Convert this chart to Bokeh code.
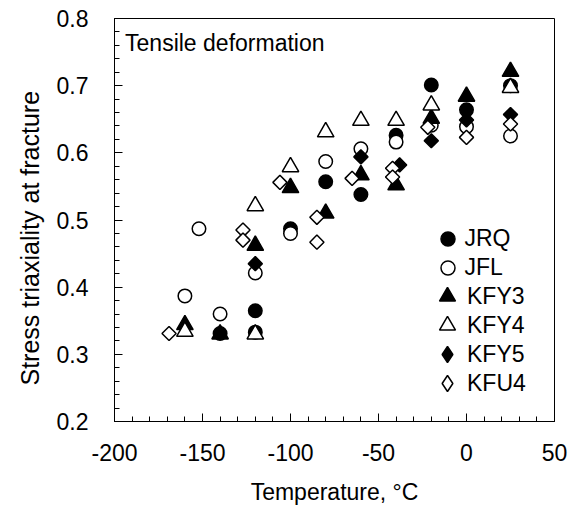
import math
from bokeh.plotting import figure
from bokeh.models import Range1d, Label, Legend, LegendItem, FixedTicker, Title
from bokeh.embed import file_html
from bokeh.resources import INLINE

# ---- data ----
jrq_t = [-140, -120, -120, -100, -80, -60, -40, -20, 0, 25]
jrq_v = [0.331, 0.365, 0.333, 0.487, 0.557, 0.538, 0.626, 0.701, 0.664, 0.700]

jfl_t = [-160, -152, -140, -120, -100, -80, -60, -40, -20, 0, 25]
jfl_v = [0.387, 0.487, 0.360, 0.421, 0.480, 0.587, 0.606, 0.616, 0.641, 0.639, 0.625]

kfy3_t = [-160, -140, -120, -100, -80, -60, -40, -20, 0, 25]
kfy3_v = [0.344, 0.330, 0.462, 0.548, 0.510, 0.567, 0.552, 0.651, 0.684, 0.721]

kfy4_t = [-160, -120, -120, -100, -80, -60, -40, -20, 25]
kfy4_v = [0.334, 0.330, 0.521, 0.579, 0.631, 0.648, 0.648, 0.671, 0.697]

kfy5_t = [-120, -60, -38, -20, 0, 25]
kfy5_v = [0.435, 0.594, 0.582, 0.618, 0.649, 0.657]

kfu4_t = [-169, -127, -127, -106, -85, -85, -65, -42, -42, -22, 0, 25]
kfu4_v = [0.331, 0.485, 0.470, 0.556, 0.504, 0.467, 0.562, 0.577, 0.564, 0.638, 0.623, 0.643]

series_names = ["JRQ", "JFL", "KFY3", "KFY4", "KFY5", "KFU4"]

x_ticks = [-200, -150, -100, -50, 0, 50]
y_ticks = [0.2, 0.3, 0.4, 0.5, 0.6, 0.7, 0.8]

x_title = "Temperature, °C"
y_title = "Stress triaxiality at fracture"
note = "Tensile deformation"

FONT = "Liberation Sans"
FS = "23px"

FRAME_L, FRAME_B = 114, 421

p = figure(width=570, height=510, output_backend="svg", toolbar_location=None,
           x_range=Range1d(-200, 50), y_range=Range1d(0.2, 0.8),
           min_border_left=114, min_border_right=16,
           min_border_top=18, min_border_bottom=89,
           background_fill_color="white", border_fill_color="white")

p.grid.visible = False
p.outline_line_color = "black"
p.outline_line_alpha = 1.0
p.outline_line_width = 1

p.xaxis.ticker = FixedTicker(ticks=x_ticks, minor_ticks=list(range(-200, 51, 10)))
p.yaxis.ticker = FixedTicker(ticks=y_ticks,
                             minor_ticks=[round(0.2 + 0.02 * i, 2) for i in range(31)])
p.xaxis.major_label_overrides = {t: str(t) for t in x_ticks}
p.yaxis.major_label_overrides = {t: f"{t:.1f}" for t in y_ticks}

for ax in (p.xaxis[0], p.yaxis[0]):
    ax.axis_line_color = "black"
    ax.major_tick_line_color = "black"
    ax.minor_tick_line_color = "black"
    ax.major_tick_in = 8
    ax.major_tick_out = 0
    ax.minor_tick_in = 5
    ax.minor_tick_out = 0
    ax.major_label_text_font = FONT
    ax.major_label_text_font_size = FS
    ax.major_label_text_color = "black"
    ax.axis_label_text_font = FONT
    ax.axis_label_text_font_size = FS
    ax.axis_label_text_font_style = "normal"
    ax.axis_label_text_color = "black"

p.xaxis.axis_label = x_title
p.xaxis.major_label_standoff = 22
p.yaxis.major_label_standoff = 26
p.xaxis.axis_label_standoff = 15

# y-axis title as a side title (lets it sit a little below the frame centre)
p.add_layout(Title(text=y_title, align="left", offset=36, standoff=20,
                   text_font=FONT, text_font_size="25px", text_font_style="normal",
                   text_color="black"), "left")

rot = math.pi / 4
style = dict(line_color="black", line_width=1.5)
r_jrq = p.scatter(jrq_t, jrq_v, marker="circle", size=13.5, fill_color="black", **style)
r_jfl = p.scatter(jfl_t, jfl_v, marker="circle", size=13.5, fill_color="white", **style)
r_kfy3 = p.scatter(kfy3_t, kfy3_v, marker="triangle", size=16.5, fill_color="black", **style)
r_kfy4 = p.scatter(kfy4_t, kfy4_v, marker="triangle", size=16.5, fill_color="white", **style)
r_kfy5 = p.scatter(kfy5_t, kfy5_v, marker="square", angle=rot, size=10, fill_color="black", **style)
r_kfu4 = p.scatter(kfu4_t, kfu4_v, marker="square", angle=rot, size=10, fill_color="white", **style)

# legend keys for the diamond series (legend keys are drawn unrotated): hidden proxies
lg_kfy5 = p.scatter(kfy5_t, kfy5_v, marker="diamond", size=16, fill_color="black",
                    visible=False, **style)
lg_kfu4 = p.scatter(kfu4_t, kfu4_v, marker="diamond", size=16, fill_color="white",
                    visible=False, **style)

legend_renderers = [r_jrq, r_jfl, r_kfy3, r_kfy4, lg_kfy5, lg_kfu4]
key_boxes = [35, 35, 40, 40, 40, 40]      # legend key box -> key size = 0.4 * box
KEY_X, ROW0, ROW_STEP = 447, 238, 29      # legend layout (screen px)

for i, (name, rend, box) in enumerate(zip(series_names, legend_renderers, key_boxes)):
    cy = ROW0 + ROW_STEP * i
    lg = Legend(items=[LegendItem(label=name, renderers=[rend])],
                location=(KEY_X - box / 2 - FRAME_L, FRAME_B - (cy + box / 2)))
    lg.border_line_color = None
    lg.background_fill_alpha = 0
    lg.padding = 0
    lg.margin = 0
    lg.spacing = 0
    lg.glyph_width = box
    lg.glyph_height = box
    lg.label_height = box
    lg.label_standoff = int(460 - (KEY_X + box / 2))
    lg.label_text_font = FONT
    lg.label_text_font_size = FS
    lg.label_text_color = "black"
    p.add_layout(lg)

p.add_layout(Label(x=-194, y=0.7634, text=note, text_font=FONT,
                   text_font_size=FS, text_color="black", text_baseline="alphabetic"))

open("out.html", "w").write(file_html(p, INLINE))
